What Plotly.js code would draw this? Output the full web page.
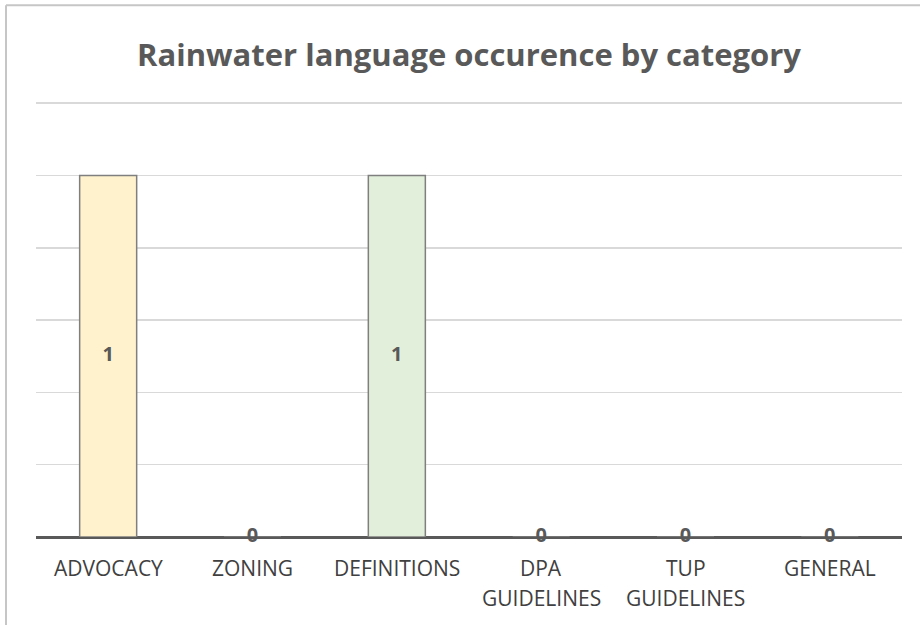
<!DOCTYPE html>
<html><head><meta charset="utf-8">
<script src="https://cdn.plot.ly/plotly-3.0.1.min.js"></script>
<style>html,body{margin:0;padding:0;background:#fff}#chart{width:920px;height:627px}</style>
</head><body><div id="chart"></div>
<script>
const categories = ["ADVOCACY", "ZONING", "DEFINITIONS", "DPA GUIDELINES", "TUP GUIDELINES", "GENERAL"];
const labelLines = [["ADVOCACY"], ["ZONING"], ["DEFINITIONS"], ["DPA", "GUIDELINES"], ["TUP", "GUIDELINES"], ["GENERAL"]];
const values = [1, 0, 1, 0, 0, 0];
const gridVals = [0.2, 0.4, 0.6, 0.8, 1.0, 1.2];
const barColors = ["#FFF2CC", "#DDEBF7", "#E2EFDA", "#FCE4D6", "#EDEDED", "#D9E1F2"];

const W = 920, H = 627, L = 36, R = 18, B = 90;
const yTop = 1.22, unitPx = 361.7;
const ph = yTop * unitPx, T = H - B - ph;
const pw = W - L - R;
const px = x => (x - L) / pw, py = y => (H - B - y) / ph;

const bars = {
  type: 'bar', x: categories, y: values,
  marker: {color: barColors, line: {color: '#7f7f7f', width: 1.5}},
  width: 0.395, hoverinfo: 'skip', showlegend: false
};
const labels = {
  type: 'scatter', mode: 'text', x: categories, y: values.map(v => v / 2),
  text: values.map(String), textposition: 'middle center',
  textfont: {family: 'Open Sans, sans-serif', size: 20, color: '#595959', weight: 'bold'},
  hoverinfo: 'skip', showlegend: false, cliponaxis: false
};

const annotations = [];
labelLines.forEach((lines, i) => {
  lines.forEach((t, j) => {
    annotations.push({
      x: categories[i], xref: 'x', y: 0, yref: 'paper', yanchor: 'middle',
      yshift: -31 - 30 * j, text: t, showarrow: false,
      font: {family: 'Open Sans, sans-serif', size: 21, color: '#404040'}
    });
  });
});

const layout = {
  width: W, height: H,
  margin: {l: L, r: R, t: T, b: B, pad: 0},
  paper_bgcolor: '#fff', plot_bgcolor: '#fff',
  title: {text: 'Rainwater language occurence by category', x: px(469), xanchor: 'center', xref: 'paper', y: 1 - 55 / H, yanchor: 'middle',
    font: {family: 'Open Sans, sans-serif', size: 31, color: '#595959', weight: 'bold'}},
  xaxis: {type: 'category', showticklabels: false, ticks: '', showgrid: false, zeroline: false, showline: false, fixedrange: true},
  yaxis: {range: [0, yTop], tickvals: gridVals, showticklabels: false, ticks: '', showgrid: true, gridcolor: '#d9d9d9', gridwidth: 1.5,
    zeroline: true, zerolinecolor: '#595959', zerolinewidth: 3, showline: false, fixedrange: true},
  bargap: 0.6,
  annotations: annotations,
  shapes: [
    {type: 'line', xref: 'paper', yref: 'paper', x0: px(6), x1: px(6), y0: py(5), y1: py(625), line: {color: '#c6c6c6', width: 2}, layer: 'above'},
    {type: 'line', xref: 'paper', yref: 'paper', x0: px(6), x1: px(921), y0: py(5), y1: py(5), line: {color: '#c6c6c6', width: 2}, layer: 'above'}
  ]
};
Plotly.newPlot('chart', [bars, labels], layout, {displayModeBar: false, staticPlot: true});
</script></body></html>
